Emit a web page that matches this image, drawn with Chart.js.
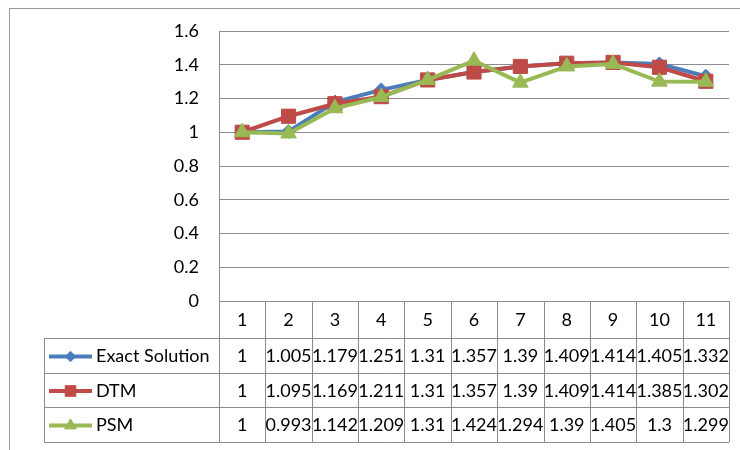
<!DOCTYPE html>
<html>
<head>
<meta charset="utf-8">
<script src="https://cdn.jsdelivr.net/npm/chart.js@4/dist/chart.umd.min.js"></script>
<style>
  body { margin: 0; background: #fff; }
  canvas { display: block; }
</style>
</head>
<body>
<canvas id="myChart" width="740" height="450"></canvas>
<script>
// chart values
const categories = ["1", "2", "3", "4", "5", "6", "7", "8", "9", "10", "11"];
const seriesNames = ["Exact Solution", "DTM", "PSM"];
const exactSolution = [1, 1.005, 1.179, 1.251, 1.31, 1.357, 1.39, 1.409, 1.414, 1.405, 1.332];
const dtm = [1, 1.095, 1.169, 1.211, 1.31, 1.357, 1.39, 1.409, 1.414, 1.385, 1.302];
const psm = [1, 0.993, 1.142, 1.209, 1.31, 1.424, 1.294, 1.39, 1.405, 1.3, 1.299];
const yTickLabels = ["0", "0.2", "0.4", "0.6", "0.8", "1", "1.2", "1.4", "1.6"];
const tableLabels = [
    ["1", "1.005", "1.179", "1.251", "1.31", "1.357", "1.39", "1.409", "1.414", "1.405", "1.332"],
    ["1", "1.095", "1.169", "1.211", "1.31", "1.357", "1.39", "1.409", "1.414", "1.385", "1.302"],
    ["1", "0.993", "1.142", "1.209", "1.31", "1.424", "1.294", "1.39", "1.405", "1.3", "1.299"]
];

const colors = ["#4A7EBB", "#BE4B48", "#98B954"];
const styles = ["rectRot", "rect", "triangle"];
const radii = [7, 10, 9];
const FONT = "18px Lato, 'Open Sans', sans-serif";
const GRID = "#8c8c8c";

Chart.defaults.font.family = "Lato, 'Open Sans', sans-serif";
Chart.defaults.font.size = 18;
Chart.defaults.color = "#000";

// draws the data table under the plot, plus frame and axis line
const dataTable = {
    id: "dataTable",
    afterDraw(chart) {
        const ctx = chart.ctx;
        const x = chart.scales.x;
        const area = chart.chartArea;
        const colW = (x.right - x.left) / categories.length;
        const top = area.bottom;
        const rows = [top, top + 37, top + 72, top + 106, top + 141];
        const legendLeft = 44;

        ctx.save();
        // outer frame
        ctx.strokeStyle = "#999";
        ctx.lineWidth = 1;
        ctx.strokeRect(9.5, 8.5, 800, 500);

        ctx.strokeStyle = GRID;
        ctx.beginPath();
        // vertical axis line
        ctx.moveTo(x.left + 0.5, area.top);
        ctx.lineTo(x.left + 0.5, rows[4]);
        // horizontal lines
        for (let r = 1; r < rows.length; r++) {
            ctx.moveTo(legendLeft, rows[r] + 0.5);
            ctx.lineTo(x.right, rows[r] + 0.5);
        }
        ctx.moveTo(legendLeft + 0.5, rows[1]);
        ctx.lineTo(legendLeft + 0.5, rows[4]);
        for (let i = 1; i <= categories.length; i++) {
            const cx = Math.round(x.left + i * colW) + 0.5;
            ctx.moveTo(cx, rows[0]);
            ctx.lineTo(cx, rows[4]);
        }
        ctx.stroke();

        ctx.font = FONT;
        ctx.fillStyle = "#000";
        ctx.textAlign = "center";
        ctx.textBaseline = "middle";
        categories.forEach((c, i) => {
            ctx.fillText(c, x.getPixelForValue(i), (rows[0] + rows[1]) / 2 + 1);
        });
        tableLabels.forEach((row, r) => {
            const cy = (rows[r + 1] + rows[r + 2]) / 2 + 1;
            ctx.fillStyle = "#000";
            ctx.textAlign = "center";
            row.forEach((v, i) => {
                ctx.fillText(v, x.getPixelForValue(i), cy);
            });
            // legend key
            ctx.strokeStyle = colors[r];
            ctx.fillStyle = colors[r];
            ctx.lineWidth = 4;
            ctx.beginPath();
            ctx.moveTo(49, cy);
            ctx.lineTo(92, cy);
            ctx.stroke();
            ctx.lineWidth = 1;
            Chart.helpers.drawPoint(ctx, {
                pointStyle: styles[r],
                radius: radii[r] * 0.75,
                borderWidth: 1
            }, 70.5, cy);
            ctx.fillStyle = "#000";
            ctx.textAlign = "left";
            ctx.fillText(seriesNames[r], 96, cy);
        });
        ctx.restore();
    }
};

const seriesData = [exactSolution, dtm, psm];
const ctx = document.getElementById("myChart").getContext("2d");
const chart = new Chart(ctx, {
    type: "line",
    data: {
        labels: categories,
        datasets: seriesData.map((d, i) => ({
            label: seriesNames[i],
            data: d,
            borderColor: colors[i],
            backgroundColor: colors[i],
            borderWidth: 4,
            pointStyle: styles[i],
            pointRadius: radii[i],
            pointBorderWidth: 1,
            tension: 0,
            order: 3 - i
        }))
    },
    options: {
        responsive: false,
        animation: false,
        devicePixelRatio: 1,
        layout: { padding: { top: 31, bottom: 149, right: 11, left: 0 } },
        plugins: { legend: { display: false }, tooltip: { enabled: false } },
        scales: {
            x: { display: false, offset: true },
            y: {
                min: 0,
                max: 1.6,
                ticks: {
                    stepSize: 0.2,
                    padding: 20,
                    callback: (v, i) => yTickLabels[i]
                },
                grid: { color: GRID, drawTicks: false },
                border: { display: false },
                afterFit: s => { s.width = 219; }
            }
        }
    },
    plugins: [dataTable]
});
</script>
</body>
</html>
